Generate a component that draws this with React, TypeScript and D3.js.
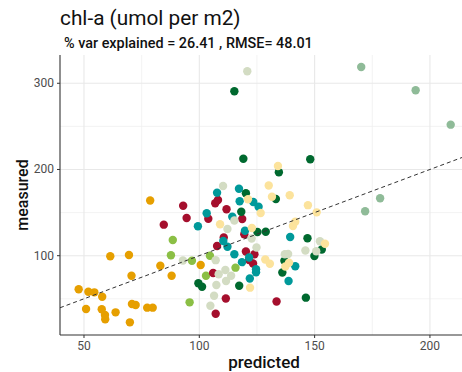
import React from "react";
import * as d3 from "d3";

// predicted vs measured chl-a, one array pair per group
const orangeX = [47.7, 50.9, 51.9, 54.5, 57.9, 57.7, 59.1, 59.2, 63.7, 61.4, 69.5, 70.6, 69.9, 70.8, 72.4, 77.4, 79.8, 78.7, 83.1, 88.0, 100.6];
const orangeY = [61.0, 38.2, 58.2, 57.5, 52.4, 37.8, 31.2, 26.2, 34.3, 99.3, 100.8, 76.7, 22.7, 44.0, 42.8, 39.7, 39.7, 164.0, 88.3, 76.7, 89.2];

const limeX = [88.5, 87.7, 96.8, 104.6, 102.9, 115.7, 95.8];
const limeY = [118.2, 100.5, 94.2, 100.0, 76.8, 86.1, 45.9];

const redX = [84.6, 93.0, 94.5, 106.9, 108.1, 111.8, 103.9, 118.6, 110.6, 107.7, 119.5, 120.2, 123.9, 121.6, 123.3, 106.0, 111.5, 107.1, 133.5];
const redY = [136.0, 158.0, 143.7, 160.8, 164.6, 153.9, 142.9, 142.6, 121.1, 111.3, 124.8, 104.9, 101.6, 95.0, 91.0, 79.9, 50.3, 32.7, 46.9];

const tealX = [107.7, 117.2, 117.5, 123.4, 125.7, 103.2, 114.3, 99.4, 119.8, 139.4, 110.4, 112.2, 115.2, 121.6, 118.5, 124.6, 124.6, 121.9, 141.6, 138.7];
const tealY = [173.1, 177.7, 163.1, 162.3, 156.8, 149.2, 145.2, 134.1, 129.0, 121.7, 117.1, 110.4, 101.6, 97.9, 92.5, 84.2, 80.7, 73.5, 87.8, 70.6];

const forestX = [115.2, 119.1, 148.1, 134.5, 120.2, 133.2, 118.2, 125.2, 128.8, 146.9, 153.1, 149.9, 136.9, 136.0, 99.6, 101.2, 117.3, 146.2];
const forestY = [290.7, 212.5, 211.8, 196.8, 172.4, 165.8, 151.0, 127.5, 127.8, 120.2, 107.2, 99.7, 94.2, 80.5, 68.0, 64.0, 65.2, 51.3];

const stoneX = [120.8, 110.3, 112.2, 115.2, 122.7, 124.8, 92.9, 107.1, 108.4, 111.3, 113.8, 107.4, 106.4, 104.8, 137.1, 138.5, 146.0, 150.7, 152.3, 111.6];
const stoneY = [313.9, 180.9, 131.0, 140.8, 120.0, 109.5, 94.4, 94.8, 78.5, 83.4, 76.8, 66.0, 53.6, 42.0, 101.7, 102.0, 106.0, 105.1, 116.8, 70.6];

const sandX = [134.1, 130.1, 131.5, 139.2, 121.1, 126.6, 109.0, 122.8, 147.1, 150.9, 141.6, 140.6, 128.6, 130.6, 122.0, 137.3, 138.9, 154.5];
const sandY = [204.1, 181.4, 168.4, 170.1, 165.4, 149.5, 136.4, 132.1, 158.6, 150.3, 139.3, 134.5, 95.6, 90.7, 62.9, 87.5, 91.8, 113.8];

const sageX = [170.2, 193.8, 209.0, 178.4, 171.9];
const sageY = [318.9, 291.9, 252.0, 166.6, 151.5];

const groups = [
  { xs: orangeX, ys: orangeY, color: "#E69F00" },
  { xs: limeX, ys: limeY, color: "#8BBF45" },
  { xs: redX, ys: redY, color: "#A50F2D" },
  { xs: tealX, ys: tealY, color: "#00999A" },
  { xs: forestX, ys: forestY, color: "#00692F" },
  { xs: stoneX, ys: stoneY, color: "#D3DCC3" },
  { xs: sandX, ys: sandY, color: "#FCE39C" },
  { xs: sageX, ys: sageY, color: "#8FBB98" },
];

const xMajor = [50, 100, 150, 200];
const xMinor = [75, 125, 175];
const yMajor = [100, 200, 300];
const yMinor = [50, 150, 250];

const titleText = "chl-a (umol per m2)";
const subtitleText = "% var explained = 26.41 , RMSE= 48.01";

const W = 462;
const H = 372;
const panel = { left: 60, right: 462, top: 55, bottom: 335 };
const FONT = "Roboto, 'DejaVu Sans', sans-serif";

export default function App() {
  const x = d3.scaleLinear().domain([39.6, 213.9]).range([panel.left, panel.right]);
  const y = d3.scaleLinear().domain([8.0, 332.8]).range([panel.bottom, panel.top]);
  const [dx0, dx1] = x.domain();

  return (
    <svg
      width={W}
      height={H}
      style={{ position: "absolute", left: 0, top: 0, background: "#fff" }}
      fontFamily={FONT}
    >
      <rect x={0} y={0} width={W} height={H} fill="#fff" />
      {/* grid */}
      {xMinor.map((v) => (
        <line key={"xm" + v} x1={x(v)} x2={x(v)} y1={panel.top} y2={panel.bottom} stroke="#f0f0f0" strokeWidth={0.8} />
      ))}
      {yMinor.map((v) => (
        <line key={"ym" + v} x1={panel.left} x2={panel.right} y1={y(v)} y2={y(v)} stroke="#f0f0f0" strokeWidth={0.8} />
      ))}
      {xMajor.map((v) => (
        <line key={"xg" + v} x1={x(v)} x2={x(v)} y1={panel.top} y2={panel.bottom} stroke="#e8e8e8" strokeWidth={1.1} />
      ))}
      {yMajor.map((v) => (
        <line key={"yg" + v} x1={panel.left} x2={panel.right} y1={y(v)} y2={y(v)} stroke="#e8e8e8" strokeWidth={1.1} />
      ))}

      {/* points */}
      {groups.map((g, gi) =>
        g.xs.map((xv, i) => (
          <circle key={gi + "-" + i} cx={x(xv)} cy={y(g.ys[i])} r={4.2} fill={g.color} />
        ))
      )}

      {/* 1:1 reference line */}
      <line
        x1={x(dx0)}
        y1={y(dx0)}
        x2={x(dx1)}
        y2={y(dx1)}
        stroke="#333"
        strokeWidth={1}
        strokeDasharray="4 3"
      />

      {/* axes */}
      <line x1={panel.left} x2={panel.left} y1={panel.top} y2={panel.bottom} stroke="#333" strokeWidth={1.1} />
      <line x1={panel.left} x2={panel.right} y1={panel.bottom} y2={panel.bottom} stroke="#333" strokeWidth={1.1} />
      {xMajor.map((v) => (
        <g key={"xt" + v}>
          <line x1={x(v)} x2={x(v)} y1={panel.bottom} y2={panel.bottom + 3} stroke="#333" strokeWidth={1} />
          <text x={x(v)} y={panel.bottom + 15} textAnchor="middle" fontSize={12} fill="#4d4d4d">
            {v}
          </text>
        </g>
      ))}
      {yMajor.map((v) => (
        <g key={"yt" + v}>
          <line x1={panel.left - 3} x2={panel.left} y1={y(v)} y2={y(v)} stroke="#333" strokeWidth={1} />
          <text x={panel.left - 6} y={y(v) + 4} textAnchor="end" fontSize={12} fill="#4d4d4d">
            {v}
          </text>
        </g>
      ))}

      {/* labels */}
      <text x={(panel.left + panel.right) / 2 + 3} y={368} textAnchor="middle" fontSize={17} fontWeight={500} fill="#111">
        predicted
      </text>
      <text
        transform={`translate(28, ${(panel.top + panel.bottom) / 2}) rotate(-90)`}
        textAnchor="middle"
        fontSize={16}
        fontWeight={500}
        fill="#111"
      >
        measured
      </text>
      <text x={60} y={25} fontSize={20.8} fill="#111">
        {titleText}
      </text>
      <text x={64} y={48} fontSize={14.4} fontWeight={500} fill="#111">
        {subtitleText}
      </text>
    </svg>
  );
}
